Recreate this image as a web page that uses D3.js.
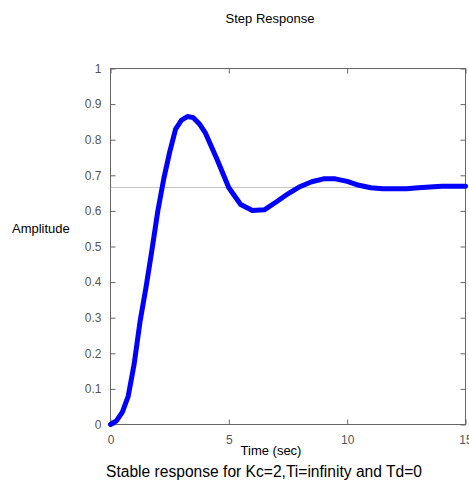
<!DOCTYPE html>
<html><head><meta charset="utf-8">
<script src="https://cdn.jsdelivr.net/npm/d3@7"></script>
<style>body{margin:0;background:#fff}svg{display:block}text{font-family:"Liberation Sans",Arial,sans-serif}</style>
</head><body>
<svg id="c" width="469" height="483"></svg>
<script>
const timeSec = [0,0.25,0.5,0.75,1.0,1.25,1.5,1.75,2.0,2.25,2.5,2.75,3.0,3.25,3.5,3.75,4.0,4.5,5.0,5.5,6.0,6.5,7.0,7.5,8.0,8.5,9.0,9.5,10,10.5,11,11.5,12,12.5,13,13.5,14,14.5,15];
const amplitude = [0,0.01,0.035,0.08,0.17,0.29,0.385,0.49,0.60,0.69,0.765,0.83,0.855,0.865,0.862,0.845,0.82,0.745,0.665,0.618,0.601,0.603,0.625,0.648,0.668,0.682,0.69,0.69,0.683,0.672,0.665,0.662,0.662,0.662,0.665,0.667,0.669,0.669,0.669];
const finalValue = [0.6667];
const xTicks = [0,5,10,15];
const yTicks = [0,0.1,0.2,0.3,0.4,0.5,0.6,0.7,0.8,0.9,1];

const svg = d3.select("#c");
const L=110.5, R=465.5, T=68.5, B=424.5;
const x = d3.scaleLinear().domain([0,15]).range([L,R]);
const y = d3.scaleLinear().domain([0,1]).range([B,T]);
const axisColor="#666", labelColor="#555";

// frame
svg.append("rect").attr("x",L).attr("y",T).attr("width",R-L).attr("height",B-T)
  .attr("fill","none").attr("stroke",axisColor).attr("stroke-width",1);

// axes with inward ticks
const tl=5;
const ax = svg.append("g").attr("transform",`translate(0,${B})`)
  .call(d3.axisBottom(x).tickValues(xTicks).tickSize(-tl).tickPadding(tl+6).tickFormat(d3.format("d")));
const axTop = svg.append("g").attr("transform",`translate(0,${T})`)
  .call(d3.axisTop(x).tickValues(xTicks).tickSize(-tl).tickFormat(""));
const ay = svg.append("g").attr("transform",`translate(${L},0)`)
  .call(d3.axisLeft(y).tickValues(yTicks).tickSize(-tl).tickPadding(tl+4).tickFormat(d=>d3.format("")(+d.toFixed(1))));
const ayR = svg.append("g").attr("transform",`translate(${R},0)`)
  .call(d3.axisRight(y).tickValues(yTicks).tickSize(-tl).tickFormat(""));
[ax,axTop,ay,ayR].forEach(g=>{
  g.select(".domain").remove();
  g.selectAll(".tick line").attr("stroke",axisColor);
  g.selectAll(".tick text").attr("fill",labelColor).style("font-size","12px").style("font-family","'Liberation Sans',Arial,sans-serif");
});

// final value reference line
const yf = Math.round(y(finalValue[0]))+0.5;
svg.append("line").attr("x1",L).attr("x2",R).attr("y1",yf).attr("y2",yf)
  .attr("stroke","#8a8a8a").attr("stroke-width",1).attr("stroke-dasharray","1,1");

// response
const line = d3.line().x((d,i)=>x(timeSec[i])).y(d=>y(d));
svg.append("path").datum(amplitude).attr("d",line).attr("fill","none")
  .attr("stroke","#0000ff").attr("stroke-width",5).attr("stroke-linejoin","round").attr("stroke-linecap","round");

// texts
svg.append("text").attr("x",270).attr("y",23).attr("text-anchor","middle").style("font-size","13px").attr("fill","#000").text("Step Response");
svg.append("text").attr("x",12).attr("y",233).style("font-size","13px").attr("fill","#000").text("Amplitude");
svg.append("text").attr("x",271).attr("y",455).attr("text-anchor","middle").style("font-size","13px").attr("fill","#000").text("Time (sec)");
svg.append("text").attr("x",264).attr("y",477).attr("text-anchor","middle").style("font-size","15.6px").attr("fill","#000").text("Stable response for Kc=2,Ti=infinity and Td=0");
</script>
</body></html>
